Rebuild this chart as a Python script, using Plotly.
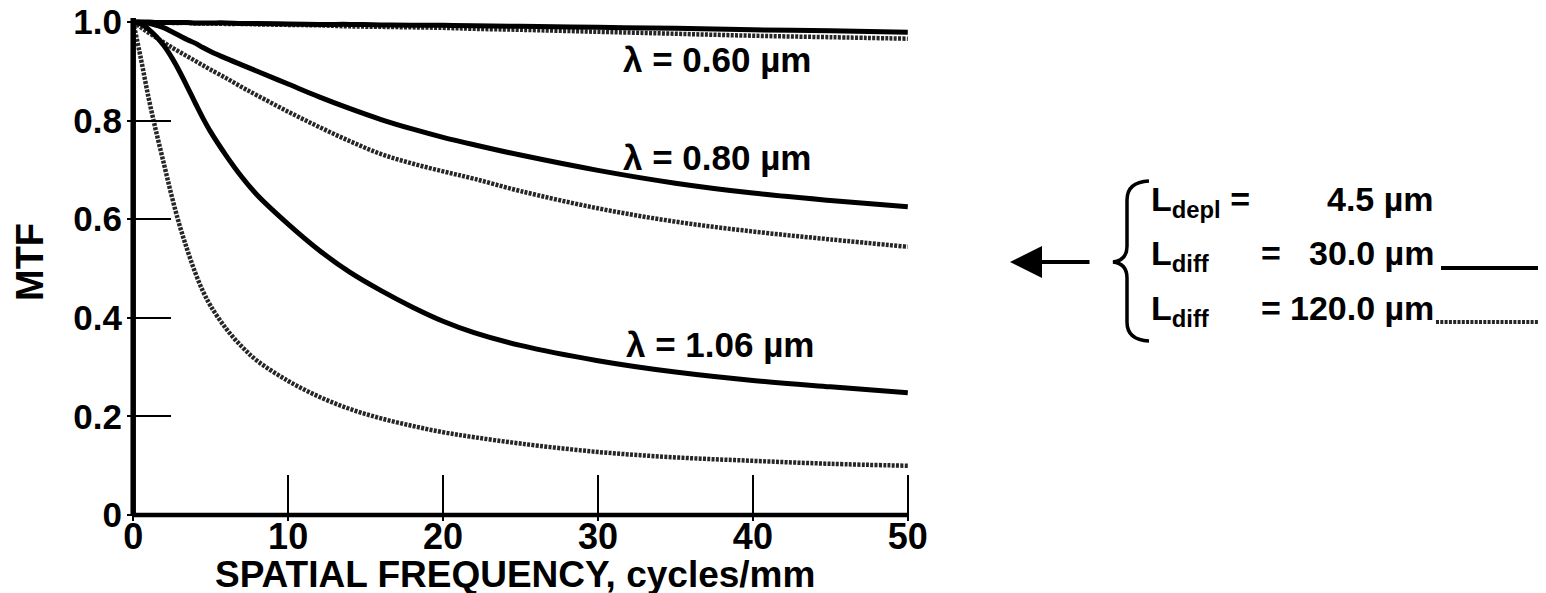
import plotly.graph_objects as go

# ---------------- data ----------------
FREQ = [0, 0.5, 1, 1.5, 2, 2.5, 3, 3.5, 4, 4.5, 5, 6, 7, 8, 10, 12, 14, 16,
        18, 20, 22, 25, 30, 35, 40, 45, 50]

MTF_060_DIFF30 = [1.0, 1.0, 1.0, .999, .999, .999, .999, .999, .998, .998, .998, .998,
                  .997, .997, .996, .995, .995, .994, .993, .993, .992, .991, .989,
                  .987, .984, .982, .979]
MTF_060_DIFF120 = [1.0, 1.0, .999, .999, .999, .998, .998, .998, .997, .997, .997, .996,
                   .996, .995, .994, .993, .991, .990, .989, .988, .986, .984, .980,
                   .976, .972, .969, .966]
MTF_080_DIFF30 = [1.0, .999, .997, .993, .988, .980, .972, .964, .957, .948, .940, .926,
                  .913, .900, .874, .848, .824, .802, .783, .766, .751, .730, .699,
                  .673, .653, .638, .625]
MTF_080_DIFF120 = [1.0, .989, .978, .968, .958, .948, .939, .930, .921, .912, .903, .886,
                   .868, .851, .818, .787, .758, .732, .713, .697, .682, .657, .622,
                   .595, .575, .559, .544]
MTF_106_DIFF30 = [1.0, .996, .985, .970, .951, .927, .899, .868, .836, .805, .777, .729,
                  .686, .649, .590, .537, .492, .455, .422, .393, .370, .344, .313,
                  .290, .273, .260, .248]
MTF_106_DIFF120 = [1.0, .925, .845, .775, .710, .645, .587, .537, .492, .454, .424, .378,
                   .342, .313, .272, .240, .215, .196, .181, .168, .158, .145, .128,
                   .117, .110, .104, .100]

X_TICKS = [0, 10, 20, 30, 40, 50]
X_TICK_TEXT = ["0", "10", "20", "30", "40", "50"]
Y_TICKS = [0, 0.2, 0.4, 0.6, 0.8, 1.0]
Y_TICK_TEXT = ["0", "0.2", "0.4", "0.6", "0.8", "1.0"]

CURVE_LABELS = ["λ = 0.60 µm", "λ = 0.80 µm", "λ = 1.06 µm"]
LEGEND_NAMES = ["L<sub>depl</sub> =", "L<sub>diff</sub>", "L<sub>diff</sub>"]
LEGEND_VALUES = ["4.5 µm", "30.0 µm", "120.0 µm"]

X_TITLE = "SPATIAL FREQUENCY, cycles/mm"
Y_TITLE = "MTF"

# ---------------- layout geometry ----------------
OFF = 8                       # default page margin around the plot div
W, H = 1546 - OFF, 593 - OFF  # figure size so the page fits the window
# wanted screen pixels: x=0 -> 133, x=50 -> 908, y=1 -> 22, y=0 -> 515
XPAD = 0.4
YPAD = 0.012
X0S, X50S, Y1S, Y0S = 133, 908, 22, 515
UX = (X50S - X0S) / 50.0
UY = (Y0S - Y1S) / 1.0
ML = round(X0S - OFF - XPAD * UX)
MR = round(W - (X50S - OFF + XPAD * UX))
MT = round(Y1S - OFF - YPAD * UY)
MB = round(H - (Y0S - OFF + YPAD * UY))
PW = W - ML - MR
PH = H - MT - MB


def paper_x(px):
    """screen pixel x -> paper coordinate"""
    return (px - OFF - ML) / PW


def paper_y(py):
    """screen pixel y -> paper coordinate"""
    return (H - MB - (py - OFF)) / PH


FONT = "Liberation Sans, Arial, Helvetica, sans-serif"
BLACK = "#000000"
DOT_COLOR = "#262626"
DOT_DASH = "3px,1.3px"

fig = go.Figure()

solid_style = dict(color=BLACK, width=5)
dotted_style = dict(color=DOT_COLOR, width=4.5, dash=DOT_DASH)

series = [
    (MTF_060_DIFF120, dotted_style),
    (MTF_060_DIFF30, solid_style),
    (MTF_080_DIFF120, dotted_style),
    (MTF_080_DIFF30, solid_style),
    (MTF_106_DIFF120, dotted_style),
    (MTF_106_DIFF30, solid_style),
]
for vals, style in series:
    fig.add_trace(go.Scatter(x=FREQ, y=vals, mode="lines",
                             line=dict(shape="spline", smoothing=1.0, **style),
                             showlegend=False, hoverinfo="skip"))

# axis lines drawn at the data origin
shapes = [
    dict(type="line", xref="x", yref="y", x0=0, x1=50, y0=0, y1=0,
         line=dict(color=BLACK, width=4.5)),
    dict(type="line", xref="x", yref="y", x0=0, x1=0, y0=0, y1=1.008,
         line=dict(color=BLACK, width=5.5)),
]

# legend sample lines
shapes.append(dict(type="line", xref="paper", yref="paper",
                   x0=paper_x(1441), x1=paper_x(1546), y0=paper_y(268), y1=paper_y(268),
                   line=dict(color=BLACK, width=4)))
shapes.append(dict(type="line", xref="paper", yref="paper",
                   x0=paper_x(1436), x1=paper_x(1546), y0=paper_y(322), y1=paper_y(322),
                   line=dict(color=DOT_COLOR, width=4, dash=DOT_DASH)))


# curly brace
def P(px, py):
    return f"{paper_x(px):.5f},{paper_y(py):.5f}"


brace = (f"M{P(1149,181)} Q{P(1127,182)} {P(1127,200)} L{P(1127,246)} "
         f"C{P(1127,256)} {P(1122,261)} {P(1113,262)} "
         f"C{P(1122,263)} {P(1127,268)} {P(1127,278)} L{P(1127,322)} "
         f"Q{P(1127,340)} {P(1149,341)}")
shapes.append(dict(type="path", xref="paper", yref="paper", path=brace,
                   line=dict(color=BLACK, width=3.5)))

annotations = []

# curve labels (baseline positions in screen pixels)
CFS = 35
for text, px, base in zip(CURVE_LABELS, [621, 621, 624], [70, 168, 355]):
    annotations.append(dict(text=text, xref="paper", yref="paper",
                            x=paper_x(px), y=paper_y(base - 0.905 * CFS),
                            xanchor="left", yanchor="top", showarrow=False,
                            font=dict(family=FONT, size=CFS, color=BLACK, weight="bold")))

# legend rows
LFS = 34
for i, (name, val, base) in enumerate(zip(LEGEND_NAMES, LEGEND_VALUES, [209, 263, 318])):
    top = paper_y(base - 0.905 * LFS)
    annotations.append(dict(text=name, xref="paper", yref="paper", x=paper_x(1149), y=top,
                            xanchor="left", yanchor="top", showarrow=False,
                            font=dict(family=FONT, size=LFS, color=BLACK, weight="bold")))
    if i > 0:
        annotations.append(dict(text="=", xref="paper", yref="paper", x=paper_x(1271), y=top,
                                xanchor="center", yanchor="top", showarrow=False,
                                font=dict(family=FONT, size=LFS, color=BLACK, weight="bold")))
    annotations.append(dict(text=val, xref="paper", yref="paper", x=paper_x(1436), y=top,
                            xanchor="right", yanchor="top", showarrow=False,
                            font=dict(family=FONT, size=LFS, color=BLACK, weight="bold")))

# arrow pointing at the plot
annotations.append(dict(text="", xref="paper", yref="paper", x=paper_x(1010), y=paper_y(262),
                        ax=81, ay=0, showarrow=True, arrowhead=2, arrowsize=1.6,
                        arrowwidth=4, arrowcolor=BLACK, standoff=0))

# axis titles
XTFS = 37
annotations.append(dict(text=X_TITLE, xref="paper", yref="paper",
                        x=paper_x(515), y=paper_y(585 - 0.905 * XTFS),
                        xanchor="center", yanchor="top", showarrow=False,
                        font=dict(family=FONT, size=XTFS, color=BLACK, weight="bold")))
annotations.append(dict(text=Y_TITLE, xref="paper", yref="paper",
                        x=paper_x(30), y=paper_y(262), textangle=-90,
                        xanchor="center", yanchor="middle", showarrow=False,
                        font=dict(family=FONT, size=38, color=BLACK, weight="bold")))

fig.update_layout(
    width=W, height=H, autosize=False,
    margin=dict(l=ML, r=MR, t=MT, b=MB, pad=0, autoexpand=False),
    paper_bgcolor="white", plot_bgcolor="white",
    shapes=shapes, annotations=annotations,
    showlegend=False,
    xaxis=dict(range=[-XPAD, 50 + XPAD], tickvals=X_TICKS, ticktext=X_TICK_TEXT,
               ticks="inside", ticklen=46, tickwidth=2, tickcolor=BLACK,
               showgrid=False, zeroline=False, showline=False, automargin=False,
               ticklabelstandoff=-9, ticklabeloverflow="allow",
               tickfont=dict(family=FONT, size=36, color=BLACK, weight="bold")),
    yaxis=dict(range=[-YPAD, 1 + YPAD], tickvals=Y_TICKS, ticktext=Y_TICK_TEXT,
               ticks="inside", ticklen=44, tickwidth=2, tickcolor=BLACK,
               showgrid=False, zeroline=False, showline=False, automargin=False,
               ticklabelstandoff=4, ticklabeloverflow="allow",
               tickfont=dict(family=FONT, size=35, color=BLACK, weight="bold")),
)

fig.write_html("out.html")
